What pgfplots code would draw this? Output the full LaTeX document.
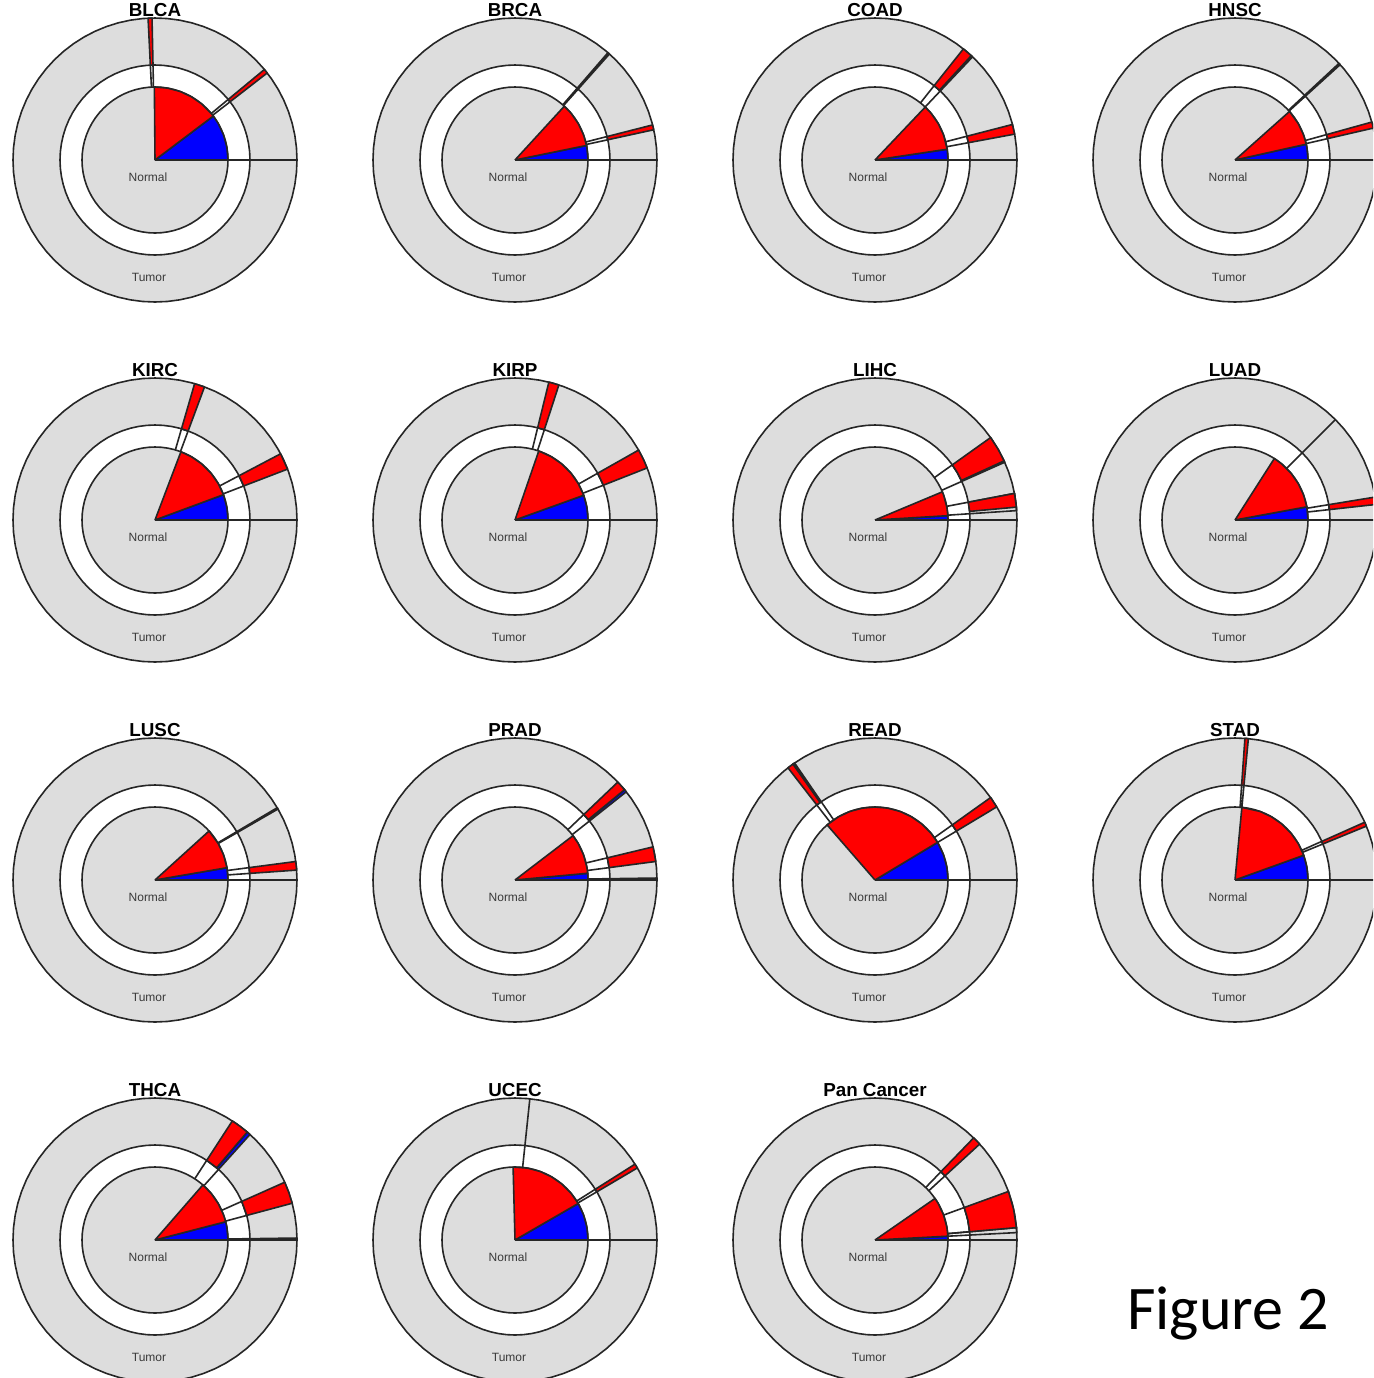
\documentclass[border=0pt]{standalone}
\usepackage{pgfplots}
\pgfplotsset{compat=1.18}
\usepackage{pgfplotstable}
\usepackage{fontspec}
\setmainfont{Liberation Sans}
\newfontfamily\figfont{Carlito}
\definecolor{bg}{HTML}{DDDDDD}
\definecolor{ln}{HTML}{262626}
\definecolor{lab}{HTML}{3A3A3A}
\pgfplotstableread{
a R M I
0 142 95 73
5 142 95 73
10 142 95 73
15 142 95 73
20 142 95 73
25 142 95 73
30 142 95 73
35 142 95 73
40 142 95 73
45 142 95 73
50 142 95 73
55 142 95 73
60 142 95 73
65 142 95 73
70 142 95 73
75 142 95 73
80 142 95 73
85 142 95 73
90 142 95 73
95 142 95 73
100 142 95 73
105 142 95 73
110 142 95 73
115 142 95 73
120 142 95 73
125 142 95 73
130 142 95 73
135 142 95 73
140 142 95 73
145 142 95 73
150 142 95 73
155 142 95 73
160 142 95 73
165 142 95 73
170 142 95 73
175 142 95 73
180 142 95 73
185 142 95 73
190 142 95 73
195 142 95 73
200 142 95 73
205 142 95 73
210 142 95 73
215 142 95 73
220 142 95 73
225 142 95 73
230 142 95 73
235 142 95 73
240 142 95 73
245 142 95 73
250 142 95 73
255 142 95 73
260 142 95 73
265 142 95 73
270 142 95 73
275 142 95 73
280 142 95 73
285 142 95 73
290 142 95 73
295 142 95 73
300 142 95 73
305 142 95 73
310 142 95 73
315 142 95 73
320 142 95 73
325 142 95 73
330 142 95 73
335 142 95 73
340 142 95 73
345 142 95 73
350 142 95 73
355 142 95 73
360 142 95 73
}\circtab
\pgfplotsset{
  pol/.style={data cs=polar, draw=ln, line width=0.8pt, line join=round, mark=none},
  panel/.style={anchor=center, x=0.5pt, y=0.5pt, xmin=-150, xmax=150, ymin=-150, ymax=150,
    hide axis, clip=false, scale only axis},
}
\newcommand{\base}{%
  \addplot[pol, fill=bg] table[x=a,y=R]{\circtab};
  \addplot[pol, fill=white] table[x=a,y=M]{\circtab};
  \addplot[pol, fill=bg] table[x=a,y=I]{\circtab};
}
\newcommand{\labels}[3]{%
  \path (#1,#2) ++(0,75pt) node[font=\bfseries\fontsize{9.4}{10}\selectfont] {#3};
  \path (#1,#2) ++(-3.5pt,-8.75pt) node[font=\fontsize{6}{7}\selectfont, text=lab] {Normal};
  \path (#1,#2) ++(-3pt,-58.5pt) node[font=\fontsize{6}{7}\selectfont, text=lab] {Tumor};
}
\begin{document}
\begin{tikzpicture}
\useasboundingbox (0,0) rectangle (686.5pt,-689pt);
\clip (0,0) rectangle (686.5pt,-689pt);

% ---------- BLCA
\begin{axis}[panel, at={(77.5pt,-80pt)}]
\base
\addplot[pol, fill=blue] coordinates {(0,0)(0,73)(10,73)(20,73)(30,73)(37,73)(0,0)};
\addplot[pol, fill=red] coordinates {(0,0)(37,73)(40,73)(50,73)(60,73)(70,73)(80,73)(90,73)(90.5,73)(0,0)};
\addplot[pol] coordinates {(0,73)(0,142)};
\addplot[pol] coordinates {(37.8,73)(37.8,95)(39.6,95)(39.6,73)};
\addplot[pol, fill=red] coordinates {(37.8,95)(37.8,142)(39.6,142)(39.6,95)(37.8,95)};
\addplot[pol] coordinates {(91.2,73)(91.2,95)(92.8,95)(92.8,73)};
\addplot[pol, fill=red] coordinates {(91.2,95)(91.2,142)(92.8,142)(92.8,95)(91.2,95)};
\end{axis}
\labels{77.5pt}{-80pt}{BLCA}

% ---------- BRCA
\begin{axis}[panel, at={(257.5pt,-80pt)}]
\base
\addplot[pol, fill=blue] coordinates {(0,0)(0,73)(10,73)(11.5,73)(0,0)};
\addplot[pol, fill=red] coordinates {(0,0)(11.5,73)(20,73)(30,73)(40,73)(47.5,73)(0,0)};
\addplot[pol] coordinates {(0,73)(0,142)};
\addplot[pol] coordinates {(12.3,73)(12.3,95)(14.3,95)(14.3,73)};
\addplot[pol, fill=red] coordinates {(12.3,95)(12.3,142)(14.3,142)(14.3,95)(12.3,95)};
\addplot[pol] coordinates {(48.3,73)(48.3,95)(49.1,95)(49.1,73)};
\addplot[pol, fill=red] coordinates {(48.3,95)(48.3,142)(49.1,142)(49.1,95)(48.3,95)};
\end{axis}
\labels{257.5pt}{-80pt}{BRCA}

% ---------- COAD
\begin{axis}[panel, at={(437.5pt,-80pt)}]
\base
\addplot[pol, fill=blue] coordinates {(0,0)(0,73)(8.5,73)(0,0)};
\addplot[pol, fill=red] coordinates {(0,0)(8.5,73)(20,73)(30,73)(40,73)(46.5,73)(0,0)};
\addplot[pol] coordinates {(0,73)(0,142)};
\addplot[pol] coordinates {(10.5,73)(10.5,95)(14.5,95)(14.5,73)};
\addplot[pol, fill=red] coordinates {(10.5,95)(10.5,142)(14.5,142)(14.5,95)(10.5,95)};
\addplot[pol] coordinates {(46.6,73)(46.6,95)(51.5,95)(51.5,73)};
\addplot[pol, fill=blue] coordinates {(46.6,95)(46.6,142)(47.3,142)(47.3,95)(46.6,95)};
\addplot[pol, fill=red] coordinates {(47.3,95)(47.3,142)(51.5,142)(51.5,95)(47.3,95)};
\end{axis}
\labels{437.5pt}{-80pt}{COAD}

% ---------- HNSC
\begin{axis}[panel, at={(617.5pt,-80pt)}]
\base
\addplot[pol, fill=blue] coordinates {(0,0)(0,73)(10,73)(12.5,73)(0,0)};
\addplot[pol, fill=red] coordinates {(0,0)(12.5,73)(20,73)(30,73)(41.7,73)(0,0)};
\addplot[pol] coordinates {(0,73)(0,142)};
\addplot[pol] coordinates {(13,73)(13,95)(15.5,95)(15.5,73)};
\addplot[pol, fill=red] coordinates {(13,95)(13,142)(15.5,142)(15.5,95)(13,95)};
\addplot[pol] coordinates {(42.2,73)(42.2,95)(42.9,95)(42.9,73)};
\addplot[pol, fill=red] coordinates {(42.2,95)(42.2,142)(42.9,142)(42.9,95)(42.2,95)};
\end{axis}
\labels{617.5pt}{-80pt}{HNSC}

% ---------- KIRC
\begin{axis}[panel, at={(77.5pt,-260pt)}]
\base
\addplot[pol, fill=blue] coordinates {(0,0)(0,73)(10,73)(20.3,73)(0,0)};
\addplot[pol, fill=red] coordinates {(0,0)(20.3,73)(30,73)(40,73)(50,73)(60,73)(69.2,73)(0,0)};
\addplot[pol] coordinates {(0,73)(0,142)};
\addplot[pol] coordinates {(21,73)(21,95)(27.8,95)(27.8,73)};
\addplot[pol, fill=red] coordinates {(21,95)(21,142)(27.8,142)(27.8,95)(21,95)};
\addplot[pol] coordinates {(69.6,73)(69.6,95)(73.8,95)(73.8,73)};
\addplot[pol, fill=red] coordinates {(69.6,95)(69.6,142)(73.8,142)(73.8,95)(69.6,95)};
\end{axis}
\labels{77.5pt}{-260pt}{KIRC}

% ---------- KIRP
\begin{axis}[panel, at={(257.5pt,-260pt)}]
\base
\addplot[pol, fill=blue] coordinates {(0,0)(0,73)(10,73)(19.8,73)(0,0)};
\addplot[pol, fill=red] coordinates {(0,0)(19.8,73)(30,73)(40,73)(50,73)(60,73)(71,73)(0,0)};
\addplot[pol] coordinates {(0,73)(0,142)};
\addplot[pol] coordinates {(21.5,73)(21.5,95)(29.5,95)(29.5,73)};
\addplot[pol, fill=red] coordinates {(21.5,95)(21.5,142)(25.5,142)(29.5,142)(29.5,95)(21.5,95)};
\addplot[pol] coordinates {(72,73)(72,95)(76.2,95)(76.2,73)};
\addplot[pol, fill=red] coordinates {(72,95)(72,142)(76.2,142)(76.2,95)(72,95)};
\end{axis}
\labels{257.5pt}{-260pt}{KIRP}

% ---------- LIHC
\begin{axis}[panel, at={(437.5pt,-260pt)}]
\base
\addplot[pol, fill=blue] coordinates {(0,0)(0,73)(3.4,73)(0,0)};
\addplot[pol, fill=red] coordinates {(0,0)(3.4,73)(10,73)(20,73)(22.7,73)(0,0)};
\addplot[pol] coordinates {(0,73)(0,142)};
\addplot[pol] coordinates {(3.8,73)(3.8,142)(10.8,142)(10.8,73)};
\addplot[pol, fill=red] coordinates {(5.2,95)(5.2,142)(10.8,142)(10.8,95)(5.2,95)};
\addplot[pol] coordinates {(24,73)(24,95)(30,95)(35.5,95)(35.5,73)};
\addplot[pol, fill=blue] coordinates {(24,95)(24,142)(24.6,142)(24.6,95)(24,95)};
\addplot[pol, fill=red] coordinates {(24.6,95)(24.6,142)(30,142)(35.5,142)(35.5,95)(30,95)(24.6,95)};
\end{axis}
\labels{437.5pt}{-260pt}{LIHC}

% ---------- LUAD
\begin{axis}[panel, at={(617.5pt,-260pt)}]
\base
\addplot[pol, fill=blue] coordinates {(0,0)(0,73)(10.4,73)(0,0)};
\addplot[pol, fill=red] coordinates {(0,0)(10.4,73)(20,73)(30,73)(40,73)(50,73)(57.4,73)(0,0)};
\addplot[pol] coordinates {(0,73)(0,142)};
\addplot[pol] coordinates {(6.3,73)(6.3,95)(9.3,95)(9.3,73)};
\addplot[pol, fill=red] coordinates {(6.3,95)(6.3,142)(9.3,142)(9.3,95)(6.3,95)};
\addplot[pol] coordinates {(45,73)(45,142)};
\end{axis}
\labels{617.5pt}{-260pt}{LUAD}

% ---------- LUSC
\begin{axis}[panel, at={(77.5pt,-440pt)}]
\base
\addplot[pol, fill=blue] coordinates {(0,0)(0,73)(9.7,73)(0,0)};
\addplot[pol, fill=red] coordinates {(0,0)(9.7,73)(20,73)(30,73)(42.2,73)(0,0)};
\addplot[pol] coordinates {(0,73)(0,142)};
\addplot[pol] coordinates {(4,73)(4,95)(7.5,95)(7.5,73)};
\addplot[pol, fill=red] coordinates {(4,95)(4,142)(7.5,142)(7.5,95)(4,95)};
\addplot[pol] coordinates {(30,73)(30,95)(30.6,95)(30.6,73)};
\addplot[pol, fill=red] coordinates {(30,95)(30,142)(30.6,142)(30.6,95)(30,95)};
\end{axis}
\labels{77.5pt}{-440pt}{LUSC}

% ---------- PRAD
\begin{axis}[panel, at={(257.5pt,-440pt)}]
\base
\addplot[pol, fill=blue] coordinates {(0,0)(0,73)(5.3,73)(0,0)};
\addplot[pol, fill=red] coordinates {(0,0)(5.3,73)(10,73)(20,73)(30,73)(37.4,73)(0,0)};
\addplot[pol] coordinates {(0,73)(0,95)(0.8,95)(0.8,73)};
\addplot[pol, fill=blue] coordinates {(0,95)(0,142)(0.8,142)(0.8,95)(0,95)};
\addplot[pol] coordinates {(7.5,73)(7.5,95)(13.5,95)(13.5,73)};
\addplot[pol, fill=red] coordinates {(7.5,95)(7.5,142)(13.5,142)(13.5,95)(7.5,95)};
\addplot[pol] coordinates {(38.4,73)(38.4,95)(43.6,95)(43.6,73)};
\addplot[pol, fill=blue] coordinates {(38.4,95)(38.4,142)(39.5,142)(39.5,95)(38.4,95)};
\addplot[pol, fill=red] coordinates {(39.5,95)(39.5,142)(43.6,142)(43.6,95)(39.5,95)};
\end{axis}
\labels{257.5pt}{-440pt}{PRAD}

% ---------- READ
\begin{axis}[panel, at={(437.5pt,-440pt)}]
\base
\addplot[pol, fill=blue] coordinates {(0,0)(0,73)(10,73)(20,73)(31,73)(0,0)};
\addplot[pol, fill=red] coordinates {(0,0)(31,73)(40,73)(50,73)(60,73)(70,73)(80,73)(90,73)(100,73)(110,73)(120,73)(131,73)(0,0)};
\addplot[pol] coordinates {(0,73)(0,142)};
\addplot[pol] coordinates {(31,73)(31,95)(35.5,95)(35.5,73)};
\addplot[pol, fill=red] coordinates {(31,95)(31,142)(35.5,142)(35.5,95)(31,95)};
\addplot[pol] coordinates {(124.5,73)(124.5,95)(127.8,95)(127.8,73)};
\addplot[pol, fill=blue] coordinates {(124.5,95)(124.5,142)(125.3,142)(125.3,95)(124.5,95)};
\addplot[pol, fill=red] coordinates {(125.3,95)(125.3,142)(127.8,142)(127.8,95)(125.3,95)};
\end{axis}
\labels{437.5pt}{-440pt}{READ}

% ---------- STAD
\begin{axis}[panel, at={(617.5pt,-440pt)}]
\base
\addplot[pol, fill=blue] coordinates {(0,0)(0,73)(10,73)(19.8,73)(0,0)};
\addplot[pol, fill=red] coordinates {(0,0)(19.8,73)(30,73)(40,73)(50,73)(60,73)(70,73)(84.6,73)(0,0)};
\addplot[pol] coordinates {(0,73)(0,142)};
\addplot[pol] coordinates {(22.3,73)(22.3,95)(24,95)(24,73)};
\addplot[pol, fill=red] coordinates {(22.3,95)(22.3,142)(24,142)(24,95)(22.3,95)};
\addplot[pol] coordinates {(84.6,73)(84.6,95)(86,95)(86,73)};
\addplot[pol, fill=red] coordinates {(84.6,95)(84.6,142)(86,142)(86,95)(84.6,95)};
\end{axis}
\labels{617.5pt}{-440pt}{STAD}

% ---------- THCA
\begin{axis}[panel, at={(77.5pt,-620pt)}]
\base
\addplot[pol, fill=blue] coordinates {(0,0)(0,73)(10,73)(14.5,73)(0,0)};
\addplot[pol, fill=red] coordinates {(0,0)(14.5,73)(20,73)(30,73)(40,73)(49,73)(0,0)};
\addplot[pol] coordinates {(0,73)(0,95)(0.8,95)(0.8,73)};
\addplot[pol, fill=blue] coordinates {(0,95)(0,142)(0.8,142)(0.8,95)(0,95)};
\addplot[pol] coordinates {(15,73)(15,95)(24,95)(24,73)};
\addplot[pol, fill=red] coordinates {(15,95)(15,142)(19.5,142)(24,142)(24,95)(15,95)};
\addplot[pol] coordinates {(48,73)(48,95)(57,95)(57,73)};
\addplot[pol, fill=blue] coordinates {(48,95)(48,142)(49.5,142)(49.5,95)(48,95)};
\addplot[pol, fill=red] coordinates {(49.5,95)(49.5,142)(53,142)(57,142)(57,95)(49.5,95)};
\end{axis}
\labels{77.5pt}{-620pt}{THCA}

% ---------- UCEC
\begin{axis}[panel, at={(257.5pt,-620pt)}]
\base
\addplot[pol, fill=blue] coordinates {(0,0)(0,73)(10,73)(20,73)(30,73)(0,0)};
\addplot[pol, fill=red] coordinates {(0,0)(30,73)(40,73)(50,73)(60,73)(70,73)(80,73)(91.5,73)(0,0)};
\addplot[pol] coordinates {(0,73)(0,142)};
\addplot[pol] coordinates {(30.5,73)(30.5,95)(32.3,95)(32.3,73)};
\addplot[pol, fill=red] coordinates {(30.5,95)(30.5,142)(32.3,142)(32.3,95)(30.5,95)};
\addplot[pol] coordinates {(84,73)(84,142)};
\end{axis}
\labels{257.5pt}{-620pt}{UCEC}

% ---------- Pan Cancer
\begin{axis}[panel, at={(437.5pt,-620pt)}]
\base
\addplot[pol, fill=blue] coordinates {(0,0)(0,73)(3,73)(0,0)};
\addplot[pol, fill=red] coordinates {(0,0)(3,73)(10,73)(20,73)(30,73)(34.7,73)(0,0)};
\addplot[pol] coordinates {(0,73)(0,142)};
\addplot[pol] coordinates {(3,73)(3,142)(5,142)(5,73)};
\addplot[pol] coordinates {(5,73)(5,95)(12.5,95)(20,95)(20,73)};
\addplot[pol, fill=red] coordinates {(5,95)(5,142)(12.5,142)(20,142)(20,95)(12.5,95)(5,95)};
\addplot[pol] coordinates {(42.5,73)(42.5,95)(46,95)(46,73)};
\addplot[pol, fill=red] coordinates {(42.5,95)(42.5,142)(46,142)(46,95)(42.5,95)};
\end{axis}
\labels{437.5pt}{-620pt}{Pan Cancer}

\node[font=\figfont\fontsize{31}{36}\selectfont] at (614pt,-656.5pt) {Figure 2};
\end{tikzpicture}
\end{document}
